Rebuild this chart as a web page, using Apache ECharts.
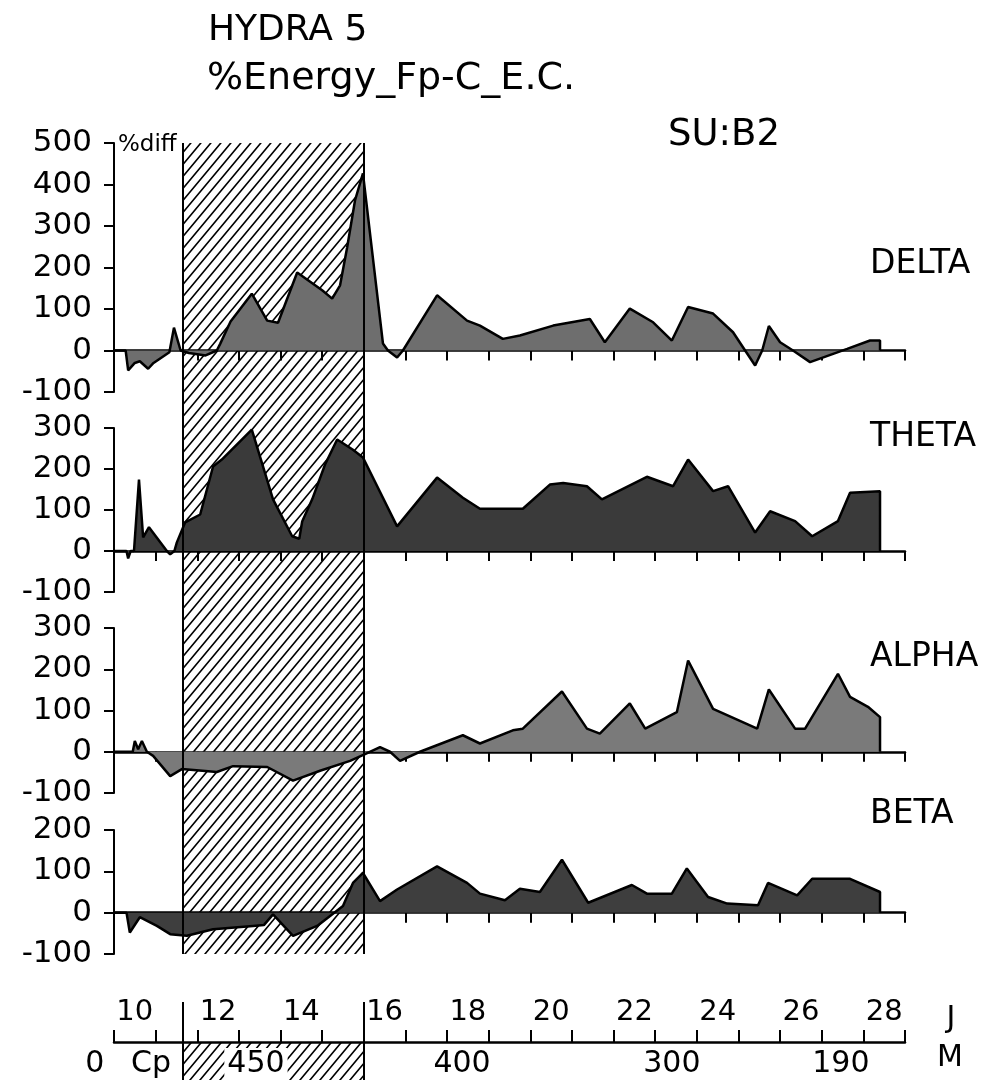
<!DOCTYPE html>
<html><head><meta charset="utf-8">
<script src="https://cdn.jsdelivr.net/npm/echarts@6/dist/echarts.min.js"></script>
<style>html,body{margin:0;padding:0;background:#fff}#c{width:996px;height:1089px}</style>
</head><body><div id="c"></div>
<script>
// ---- data (x = day, y = % diff) ----
const dayLabels = ['10','11','12','13','14','15','16','17','18','19','20','21','22','23','24','25','26','27','28'];
const deltaPts = [[10.0,0],[10.28,0],[10.34,-48],[10.5,-30],[10.62,-26],[10.82,-44],[10.95,-30],[11.33,-4],[11.44,55],[11.6,0],[11.8,-6],[12.2,-12],[12.47,0],[12.55,16],[12.8,70],[13.31,137],[13.68,72],[13.94,67],[14.4,188],[15.0,145],[15.24,125],[15.43,157],[15.6,248],[15.79,362],[15.98,427],[16.46,17],[16.58,0],[16.8,-17],[16.94,0],[17.76,133],[18.48,72],[18.79,60],[19.34,28],[19.75,36],[20.55,60],[21.43,76],[21.79,20],[22.39,101],[22.95,68],[23.4,24],[23.79,105],[24.39,89],[24.87,44],[25.16,0],[25.4,-36],[25.57,0],[25.73,59],[26.0,20],[26.31,0],[26.72,-28],[27.61,4],[28.16,24],[28.4,24],[28.4,0]];
const thetaPts = [[10.0,0],[10.3,0],[10.34,-18],[10.4,0],[10.48,0],[10.6,174],[10.7,33],[10.84,58],[11.27,0],[11.35,-8],[11.45,0],[11.51,21],[11.71,70],[12.07,89],[12.38,206],[12.59,223],[13.31,296],[13.82,126],[14.28,36],[14.45,30],[14.52,72],[14.76,126],[15.07,211],[15.36,272],[15.74,247],[15.98,228],[16.8,60],[17.76,179],[18.38,130],[18.79,103],[19.82,103],[20.47,162],[20.79,166],[21.36,158],[21.72,126],[22.8,181],[23.43,158],[23.79,223],[24.39,146],[24.75,158],[25.4,45],[25.76,97],[26.36,73],[26.77,36],[27.39,73],[27.68,142],[28.4,146],[28.4,0]];
const alphaPts = [[10.0,0],[10.45,0],[10.5,26],[10.58,6],[10.67,26],[10.79,0],[10.94,-10],[11.35,-59],[11.63,-42],[12.47,-49],[12.86,-35],[13.68,-37],[14.3,-70],[14.95,-46],[15.67,-22],[16.03,-6],[16.39,11],[16.63,0],[16.87,-22],[17.35,0],[18.38,40],[18.79,20],[19.58,52],[19.82,56],[20.76,146],[21.36,56],[21.67,44],[22.39,117],[22.76,56],[23.52,96],[23.79,221],[24.39,104],[25.45,56],[25.73,151],[26.36,56],[26.6,56],[27.39,189],[27.68,133],[28.11,109],[28.4,84],[28.4,0]];
const betaPts = [[10.0,0],[10.3,0],[10.38,-48],[10.62,-11],[11.03,-32],[11.35,-52],[11.75,-56],[12.38,-40],[13.34,-32],[13.6,-30],[13.82,-4],[14.3,-56],[14.88,-32],[15.5,16],[15.74,72],[15.98,96],[16.39,28],[16.8,56],[17.76,112],[18.48,72],[18.79,46],[19.39,30],[19.75,58],[20.23,50],[20.76,128],[21.39,24],[22.44,67],[22.8,46],[23.4,46],[23.76,107],[24.27,38],[24.73,22],[25.47,18],[25.71,72],[26.41,42],[26.77,82],[27.68,82],[28.4,50],[28.4,0]];
const bandNames = ['DELTA','THETA','ALPHA','BETA'];
const bandMin = [-100,-100,-100,-100];
const bandMax = [500,300,300,200];
const hatchStart = 11.66, hatchEnd = 16.0;
const mRowLabels = ['0','Cp','450','400','300','190'];
const mRowDays = [9.54,10.89,13.41,18.36,23.4,27.46];

// ---- layout / style ----
const F = '"DejaVu Sans", sans-serif';
const panels = [{top:143,height:249},{top:428,height:164},{top:628,height:165},{top:830,height:124}];
const fills = ['#6e6e6e','#3a3a3a','#7a7a7a','#3e3e3e'];
const bandData = [deltaPts, thetaPts, alphaPts, betaPts];
const L = 114, W = 791;

function hatchCanvas(){
  const w=10,h=12,c=document.createElement('canvas');c.width=w;c.height=h;
  const g=c.getContext('2d');g.strokeStyle='#000';g.lineWidth=1.6;g.beginPath();
  for(const dx of [-w,0,w]){g.moveTo(dx-w*0.2,h*1.2);g.lineTo(dx+w*1.2,-h*0.2);}
  g.stroke();return c;
}
const pat = {image: hatchCanvas(), repeat:'repeat'};

const grid=[], xAxis=[], yAxis=[], series=[];
panels.forEach((p,i)=>{
  grid.push({left:L,width:W,top:p.top,height:p.height});
  xAxis.push({gridIndex:i,type:'value',min:10,max:29,interval:1,
    axisLine:{onZero:true,lineStyle:{color:'#000',width:2.5}},
    axisTick:{show:true,length:10,lineStyle:{color:'#000',width:2}},
    axisLabel:{show:false},splitLine:{show:false}});
  yAxis.push({gridIndex:i,type:'value',min:bandMin[i],max:bandMax[i],interval:100,
    name: i===0?'%diff':'', nameLocation:'end', nameGap:-2,
    nameTextStyle:{fontFamily:F,fontSize:23,color:'#000',align:'left',verticalAlign:'middle',padding:[0,0,0,4]},
    axisLine:{show:true,onZero:false,lineStyle:{color:'#000',width:2}},
    axisTick:{show:true,length:10,lineStyle:{color:'#000',width:2}},
    axisLabel:{fontFamily:F,fontSize:31,color:'#000',margin:22},
    splitLine:{show:false}});
  series.push({type:'line',xAxisIndex:i,yAxisIndex:i,data:bandData[i],symbol:'none',
    lineStyle:{color:'#000',width:2.5},areaStyle:{color:fills[i],opacity:1},z:3});
});
// hatch overlay over panels (grid 4)
grid.push({left:L,width:W,top:143,height:811});
xAxis.push({gridIndex:4,type:'value',min:10,max:29,show:false});
yAxis.push({gridIndex:4,type:'value',min:0,max:1,show:false});
series.push({type:'line',xAxisIndex:4,yAxisIndex:4,data:[],z:1,
  markArea:{silent:true,itemStyle:{color:pat},data:[[{xAxis:hatchStart},{xAxis:hatchEnd}]]}});
series.push({type:'line',xAxisIndex:4,yAxisIndex:4,data:[],z:4,
  markLine:{silent:true,symbol:['none','none'],label:{show:false},lineStyle:{color:'#000',width:2,type:'solid'},
    data:[{xAxis:hatchStart},{xAxis:hatchEnd}]}});
// bottom hatch (grid 5)
grid.push({left:L,width:W,top:1002,height:78});
xAxis.push({gridIndex:5,type:'value',min:10,max:29,show:false});
yAxis.push({gridIndex:5,type:'value',min:0,max:78,show:false});
series.push({type:'line',xAxisIndex:5,yAxisIndex:5,data:[],z:1,
  markArea:{silent:true,itemStyle:{color:pat},data:[[{xAxis:hatchStart,yAxis:0},{xAxis:hatchEnd,yAxis:38}]]},
  markLine:{silent:true,symbol:['none','none'],label:{show:false},lineStyle:{color:'#000',width:2,type:'solid'},
    data:[{xAxis:hatchStart},{xAxis:hatchEnd}]}});
// day axis (grid 6)
grid.push({left:L,width:W,top:1042,height:38});
xAxis.push({gridIndex:6,type:'category',data:dayLabels,position:'top',boundaryGap:true,
  axisLine:{onZero:false,lineStyle:{color:'#000',width:2.5}},
  axisTick:{show:true,interval:0,length:12,lineStyle:{color:'#000',width:2}},
  axisLabel:{interval:1,fontFamily:F,fontSize:29,color:'#000',margin:15}});
yAxis.push({gridIndex:6,type:'value',min:0,max:1,show:false});

const txt=(t,x,y,size,align,bg)=>({type:'text',x:x,y:y,silent:true,z:100,
  style:Object.assign({text:t,font:size+'px '+F,fill:'#000',align:align||'left',verticalAlign:'middle'},
    bg?{backgroundColor:'#fff',padding:[1,3]}:{})});
const graphic=[
  txt('HYDRA 5',208,31,36), txt('%Energy_Fp-C_E.C.',207,79,38), txt('SU:B2',668,135,37),
  txt(bandNames[0],870,264,33), txt(bandNames[1],870,437,33), txt(bandNames[2],870,657,33), txt(bandNames[3],870,814,33),
  txt('J',951,1019,30,'center'), txt('M',950,1058,30,'center')
];

const chart = echarts.init(document.getElementById('c'),null,{renderer:'canvas'});
chart.setOption({animation:false,backgroundColor:'#fff',grid,xAxis,yAxis,series,graphic});
// second-row labels placed through the time axis scale
const rowY = 16;
mRowLabels.forEach((n,k)=>{
  const p = chart.convertToPixel({xAxisIndex:5,yAxisIndex:5},[mRowDays[k],rowY]);
  graphic.push(txt(n,p[0],p[1],30,'center',n==='450'));
});
chart.setOption({graphic});
</script></body></html>
